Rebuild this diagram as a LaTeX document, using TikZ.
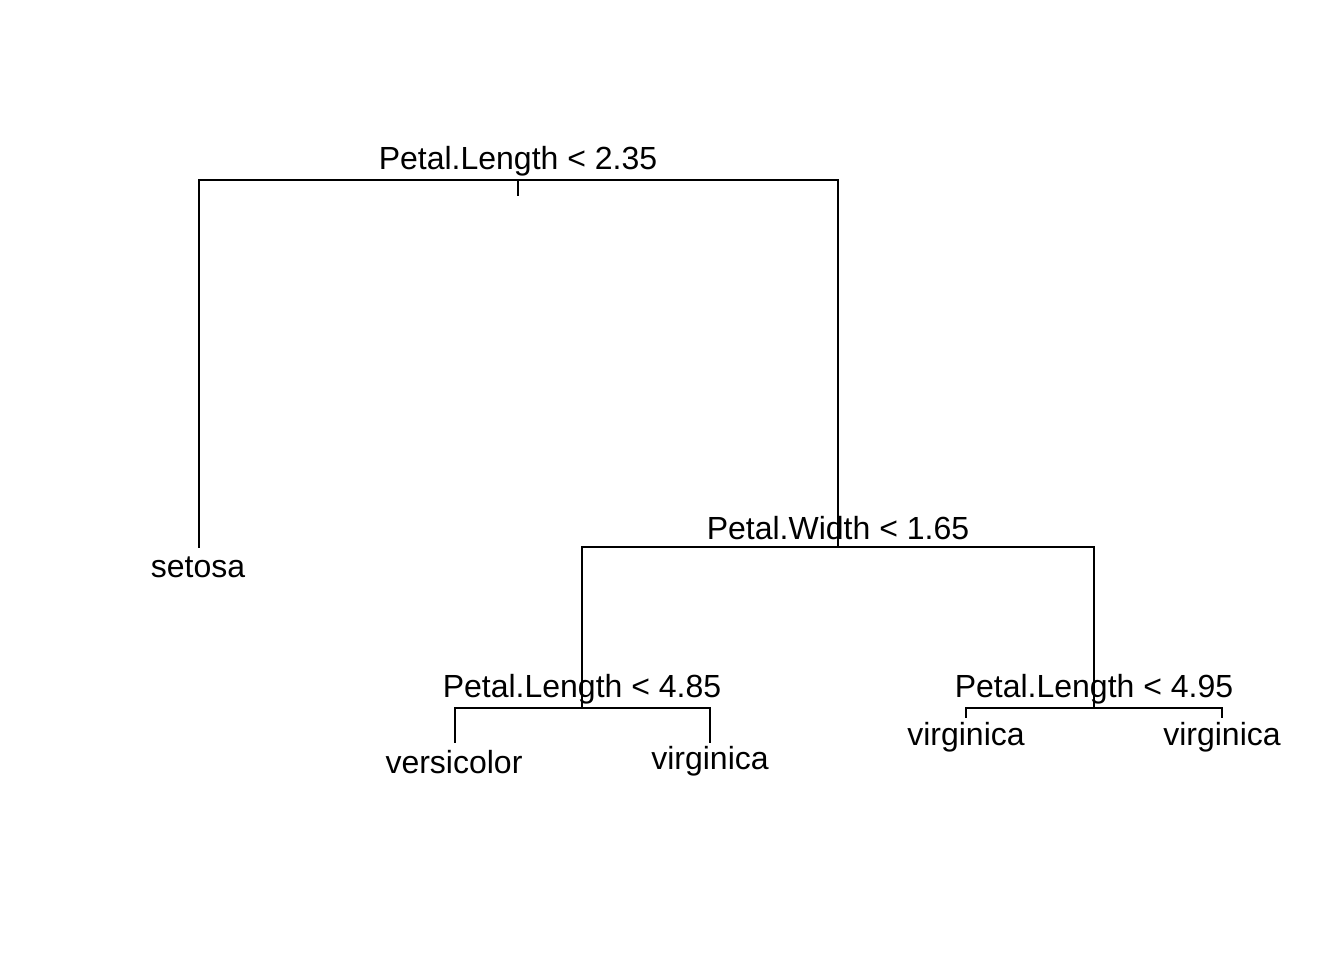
\documentclass[tikz,border=0pt]{standalone}
\usepackage{fontspec}
\setmainfont{Liberation Sans}
\begin{document}
\begin{tikzpicture}[x=1pt,y=-1pt,
  edge/.style={line width=2pt,line cap=rect},
  lbl/.style={anchor=base,inner sep=0pt,font=\fontsize{32}{38}\selectfont}]
\useasboundingbox (0,0) rectangle (1344,960);
% tree nodes
\coordinate (n1) at (518,180);
\coordinate (n1s) at (518,195);
\coordinate (n2) at (838,546.5);
\coordinate (n3) at (582,707.5);
\coordinate (n4) at (1094,707.5);
\coordinate (l1) at (199,547);
\coordinate (l2) at (455,742);
\coordinate (l3) at (710,742);
\coordinate (l4) at (966,717);
\coordinate (l5) at (1222,717);
% connectors
\draw[edge] (n1) -| (l1);
\draw[edge] (n1) -| (n2);
\draw[edge] (n1) -- (n1s);
\draw[edge] (n2) -| (n3);
\draw[edge] (n2) -| (n4);
\draw[edge] (n3) -| (l2);
\draw[edge] (n3) -| (l3);
\draw[edge] (n4) -| (l4);
\draw[edge] (n4) -| (l5);
% split labels
\node[lbl] (t1) at (518,170) {Petal.Length < 2.35};
\node[lbl] (t2) at (838,539.5) {Petal.Width < 1.65};
\node[lbl] (t3) at (582,697.5) {Petal.Length < 4.85};
\node[lbl] (t4) at (1094,697.5) {Petal.Length < 4.95};
% leaf labels
\node[lbl] (s1) at (198,577.5) {setosa};
\node[lbl] (s2) at (454,773) {versicolor};
\node[lbl] (s3) at (710,769.5) {virginica};
\node[lbl] (s4) at (966,745) {virginica};
\node[lbl] (s5) at (1222,745) {virginica};
\end{tikzpicture}
\end{document}
